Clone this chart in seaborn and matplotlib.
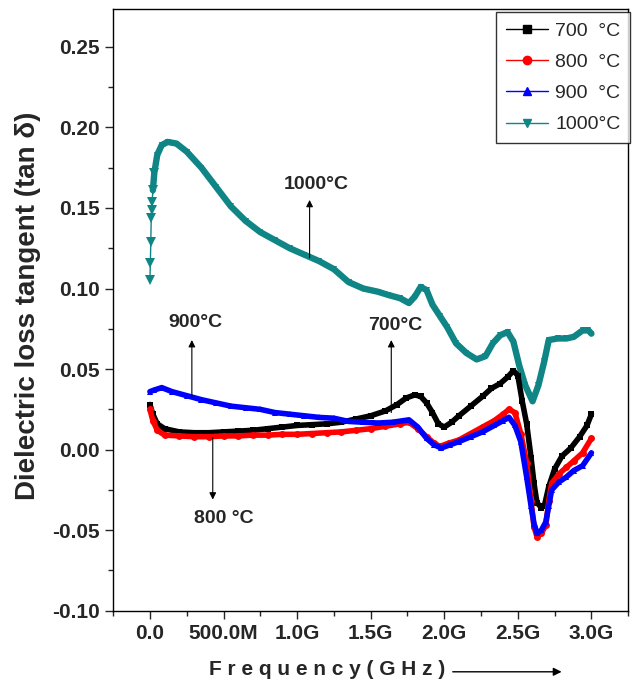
import matplotlib
matplotlib.use("Agg")
import matplotlib.pyplot as plt
import seaborn as sns
import pandas as pd
from matplotlib.ticker import FixedLocator, FixedFormatter, MultipleLocator
from matplotlib.lines import Line2D

# ---------------- data ----------------
f_1000 = [0.000, 0.003, 0.006, 0.009, 0.012, 0.015, 0.020, 0.03, 0.05, 0.08, 0.12, 0.18, 0.25,
          0.35, 0.45, 0.55, 0.65, 0.75, 0.85, 0.95, 1.05, 1.15, 1.25, 1.35, 1.45, 1.55, 1.62,
          1.70, 1.76, 1.80, 1.84, 1.88, 1.92, 1.97, 2.02, 2.08, 2.15, 2.22, 2.28, 2.33, 2.38,
          2.43, 2.47, 2.51, 2.55, 2.60, 2.64, 2.68, 2.71, 2.77, 2.83, 2.88, 2.94, 2.98, 3.00]
v_1000 = [0.105, 0.116, 0.129, 0.144, 0.149, 0.154, 0.161, 0.172, 0.183, 0.189, 0.191, 0.190, 0.185,
          0.175, 0.163, 0.151, 0.142, 0.135, 0.130, 0.125, 0.121, 0.117, 0.112, 0.104, 0.100, 0.098, 0.096,
          0.094, 0.091, 0.095, 0.101, 0.099, 0.090, 0.083, 0.076, 0.066, 0.060, 0.056, 0.058, 0.066, 0.071,
          0.073, 0.067, 0.052, 0.040, 0.030, 0.040, 0.055, 0.068, 0.069, 0.069, 0.070, 0.074, 0.074, 0.072]

f_700 = [0.000, 0.02, 0.05, 0.10, 0.20, 0.30, 0.40, 0.50, 0.60, 0.70, 0.80, 0.90, 1.00, 1.10, 1.20,
         1.30, 1.40, 1.50, 1.60, 1.68, 1.74, 1.80, 1.84, 1.88, 1.92, 1.96, 2.00, 2.05, 2.10, 2.18,
         2.26, 2.32, 2.38, 2.43, 2.47, 2.50, 2.53, 2.56, 2.59, 2.61, 2.63, 2.66, 2.68, 2.71, 2.75,
         2.80, 2.86, 2.92, 2.97, 3.00]
v_700 = [0.028, 0.022, 0.016, 0.013, 0.011, 0.0105, 0.0105, 0.011, 0.0115, 0.012, 0.013, 0.014, 0.015,
         0.0155, 0.016, 0.017, 0.019, 0.021, 0.024, 0.028, 0.032, 0.034, 0.033, 0.029, 0.023, 0.016,
         0.014, 0.017, 0.021, 0.027, 0.033, 0.038, 0.041, 0.045, 0.049, 0.046, 0.030, 0.016, -0.005,
         -0.021, -0.033, -0.036, -0.035, -0.023, -0.012, -0.004, 0.001, 0.008, 0.015, 0.022]

f_800 = [0.000, 0.02, 0.05, 0.10, 0.20, 0.30, 0.40, 0.50, 0.60, 0.70, 0.80, 0.90, 1.00, 1.10, 1.20,
         1.30, 1.40, 1.50, 1.60, 1.70, 1.76, 1.82, 1.88, 1.93, 1.97, 2.03, 2.10, 2.18, 2.26, 2.34,
         2.40, 2.44, 2.48, 2.52, 2.56, 2.59, 2.61, 2.63, 2.66, 2.69, 2.71, 2.73, 2.78, 2.83, 2.88,
         2.94, 3.00]
v_800 = [0.025, 0.018, 0.012, 0.009, 0.0085, 0.008, 0.008, 0.0085, 0.0085, 0.009, 0.009, 0.0095, 0.0095,
         0.010, 0.0105, 0.011, 0.012, 0.013, 0.0145, 0.016, 0.017, 0.013, 0.008, 0.004, 0.002, 0.004,
         0.006, 0.010, 0.014, 0.018, 0.022, 0.025, 0.023, 0.010, -0.008, -0.032, -0.048, -0.054, -0.052,
         -0.047, -0.032, -0.021, -0.015, -0.011, -0.007, -0.002, 0.007]

f_900 = [0.000, 0.03, 0.08, 0.15, 0.25, 0.35, 0.45, 0.55, 0.65, 0.75, 0.85, 0.95, 1.05, 1.15, 1.25,
         1.35, 1.45, 1.55, 1.65, 1.76, 1.82, 1.88, 1.93, 1.98, 2.04, 2.10, 2.18, 2.26, 2.34, 2.40,
         2.44, 2.48, 2.52, 2.56, 2.59, 2.61, 2.63, 2.66, 2.69, 2.71, 2.73, 2.78, 2.83, 2.88, 2.94, 3.00]
v_900 = [0.036, 0.037, 0.0385, 0.036, 0.0335, 0.031, 0.029, 0.027, 0.026, 0.025, 0.023, 0.022, 0.021,
         0.020, 0.0195, 0.0175, 0.017, 0.0165, 0.017, 0.0185, 0.014, 0.007, 0.003, 0.001, 0.003, 0.005,
         0.008, 0.011, 0.015, 0.018, 0.020, 0.015, 0.005, -0.017, -0.035, -0.046, -0.052, -0.050, -0.045,
         -0.035, -0.025, -0.020, -0.017, -0.013, -0.010, -0.002]

x_tick_values = [0.0, 0.5, 1.0, 1.5, 2.0, 2.5, 3.0]
x_tick_labels = ["0.0", "500.0M", "1.0G", "1.5G", "2.0G", "2.5G", "3.0G"]
y_tick_values = [-0.10, -0.05, 0.00, 0.05, 0.10, 0.15, 0.20, 0.25]
y_tick_labels = ["-0.10", "-0.05", "0.00", "0.05", "0.10", "0.15", "0.20", "0.25"]

series_names = ["700  \u00b0C", "800  \u00b0C", "900  \u00b0C", "1000\u00b0C"]
series_colors = ["black", "#ff0000", "#0000ff", "#108585"]
series_markers = ["s", "o", "^", "v"]

# ---------------- styling ----------------
sns.set_theme(style="ticks")
plt.rcParams["font.family"] = ["Liberation Sans", "DejaVu Sans"]
plt.rcParams["axes.linewidth"] = 1.0

fig = plt.figure(figsize=(6.32, 6.94), dpi=100)
ax = fig.add_axes([0.179, 0.120, 0.815, 0.867])

frames = []
for name, fx, fy in zip(series_names, [f_700, f_800, f_900, f_1000], [v_700, v_800, v_900, v_1000]):
    frames.append(pd.DataFrame({"freq": fx, "tan": fy, "series": name}))
df = pd.concat(frames, ignore_index=True)

# 1000 C: first sparse points show as separate markers, then a dense thick trace
sub = df[df["series"] == series_names[3]].reset_index(drop=True)
sns.lineplot(data=sub.iloc[:8], x="freq", y="tan", ax=ax, color=series_colors[3],
             linewidth=1.0, marker="v", markersize=7, markeredgewidth=0,
             sort=False, estimator=None, legend=False)
sns.lineplot(data=sub.iloc[6:], x="freq", y="tan", ax=ax, color=series_colors[3],
             linewidth=4.6, marker="v", markersize=5, markeredgewidth=0,
             sort=False, estimator=None, legend=False)
for i in [0, 1, 2]:
    s = df[df["series"] == series_names[i]]
    sns.lineplot(data=s, x="freq", y="tan", ax=ax, color=series_colors[i],
                 linewidth=4.0, marker=series_markers[i], markersize=5,
                 markeredgewidth=0, sort=False, estimator=None, legend=False)

ax.set_xlim(-0.25, 3.25)
ax.set_ylim(-0.10, 0.2735)
ax.xaxis.set_major_locator(FixedLocator(x_tick_values))
ax.xaxis.set_major_formatter(FixedFormatter(x_tick_labels))
ax.yaxis.set_major_locator(FixedLocator(y_tick_values))
ax.yaxis.set_major_formatter(FixedFormatter(y_tick_labels))
ax.xaxis.set_minor_locator(MultipleLocator(0.25))
ax.yaxis.set_minor_locator(MultipleLocator(0.025))
ax.tick_params(axis="both", which="major", direction="out", length=6, width=1,
               labelsize=15, top=False, right=False)
ax.tick_params(axis="both", which="minor", direction="out", length=3.5, width=1,
               top=False, right=False)
for lab in ax.get_xticklabels() + ax.get_yticklabels():
    lab.set_fontweight("bold")
for s in ax.spines.values():
    s.set_visible(True)
    s.set_color("black")
ax.set_xlabel("")
ax.set_ylabel("")
fig.text(0.045, 0.56, "Dielectric loss tangent (tan \u03b4)", fontsize=20, fontweight="bold",
         rotation=90, ha="center", va="center")

# x label with arrow
fig.text(0.518, 0.022, "F r e q u e n c y ( G H z )", fontsize=15, fontweight="bold",
         ha="center", va="bottom")
fig.add_artist(matplotlib.patches.FancyArrowPatch((0.712, 0.032), (0.893, 0.032),
               transform=fig.transFigure, arrowstyle="-|>", mutation_scale=12,
               color="black", lw=1.0))

# annotations
ann = [
    ("1000\u00b0C", 1.085, 0.119, 0.155, 1.13, 0.1645),
    ("900\u00b0C", 0.285, 0.033, 0.068, 0.31, 0.0788),
    ("700\u00b0C", 1.64, 0.023, 0.068, 1.67, 0.0770),
]
for txt, ax_x, y0, y1, tx, ty in ann:
    ax.annotate("", xy=(ax_x, y1), xytext=(ax_x, y0),
                arrowprops=dict(arrowstyle="-|>", color="black", lw=0.8, mutation_scale=10,
                                shrinkA=0, shrinkB=0))
    ax.text(tx, ty, txt, fontsize=14, fontweight="bold", ha="center", va="center")
ax.annotate("", xy=(0.427, -0.031), xytext=(0.427, 0.0075),
            arrowprops=dict(arrowstyle="-|>", color="black", lw=0.8, mutation_scale=10,
                            shrinkA=0, shrinkB=0))
ax.text(0.50, -0.0425, "800 \u00b0C", fontsize=14, fontweight="bold", ha="center", va="center")

# legend
handles = [Line2D([0], [0], color=c, lw=1.0, marker=m, markersize=6)
           for c, m in zip(series_colors, series_markers)]
leg = fig.legend(handles, series_names, loc="upper right", bbox_to_anchor=(0.997, 0.982),
                 fontsize=14, frameon=True, fancybox=False, edgecolor="black",
                 handlelength=2.2, labelspacing=0.7, borderpad=0.5, handletextpad=0.35,
                 borderaxespad=0.0)
leg.get_frame().set_linewidth(1.0)

fig.savefig("out.png", dpi=100)
